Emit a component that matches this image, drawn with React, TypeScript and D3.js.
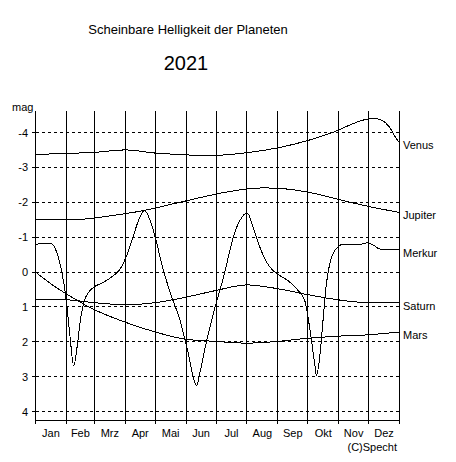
import * as React from 'react';
import * as d3 from 'd3';

const W = 456;
const H = 462;

// month start (day of year) and labels
const monthStarts = [0, 31, 59, 90, 120, 151, 181, 212, 243, 273, 304, 334, 365];
const monthLabels = ['Jan', 'Feb', 'Mrz', 'Apr', 'Mai', 'Jun', 'Jul', 'Aug', 'Sep', 'Okt', 'Nov', 'Dez'];
const magTicks = [-4, -3, -2, -1, 0, 1, 2, 3, 4];

// [day of year, magnitude]
const venus: [number, number][] = [
  [0, -3.37], [31, -3.4], [59, -3.43], [90, -3.5], [120, -3.41], [151, -3.36], [172, -3.33],
  [195, -3.37], [212, -3.42], [243, -3.56], [273, -3.77], [304, -4.07], [318, -4.25],
  [334, -4.39], [340, -4.4], [348, -4.34], [355, -4.15], [360, -3.91], [364.5, -3.72],
];
const jupiter: [number, number][] = [
  [0, -1.5], [31, -1.5], [50, -1.52], [70, -1.59], [108, -1.76], [145, -2.0], [195, -2.31],
  [212, -2.38], [228, -2.41], [243, -2.4], [273, -2.29], [304, -2.08], [334, -1.88], [364.5, -1.71],
];
const merkur: [number, number][] = [
  [0, -0.77], [5, -0.82], [15, -0.82], [20, -0.66], [23.3, -0.38], [26.7, 0.05], [30, 0.62],
  [32.3, 1.2], [35, 1.96], [38.3, 2.7], [41.7, 2.15], [45, 1.39], [49, 0.82], [53.3, 0.58],
  [58.3, 0.44], [68.3, 0.29], [78.3, 0.1], [85, -0.09], [90.7, -0.42], [96.7, -0.9],
  [103.3, -1.48], [109, -1.76], [115, -1.48], [120, -1.0], [128.3, -0.04], [136.7, 0.72],
  [145, 1.39], [151.7, 2.15], [161.7, 3.25], [165, 2.87], [171.7, 1.96], [181, 0.91],
  [186.7, 0.34], [191.7, -0.23], [198.3, -1.0], [205, -1.48], [212.3, -1.69], [218.3, -1.28],
  [225, -0.71], [231.7, -0.28], [238.3, -0.04], [245, 0.1], [255, 0.29], [263.3, 0.53],
  [270, 0.82], [273.3, 1.3], [276.7, 1.96], [280, 2.63], [281.7, 2.97], [285, 2.44],
  [288.3, 1.39], [291.7, 0.34], [295, -0.23], [300, -0.62], [303.3, -0.71], [307, -0.79],
  [325, -0.79], [333.3, -0.84], [340, -0.75], [345, -0.66], [364.5, -0.64],
];
const saturn: [number, number][] = [
  [0, 0.8], [31, 0.8], [59, 0.88], [90, 0.94], [120, 0.88], [151, 0.72], [181, 0.53],
  [212, 0.37], [243, 0.48], [273, 0.65], [304, 0.8], [334, 0.88], [364.5, 0.88],
];
const mars: [number, number][] = [
  [0, 0.0], [15, 0.33], [31, 0.63], [59, 1.08], [90, 1.44], [120, 1.72], [151, 1.93],
  [181, 1.99], [212, 2.04], [243, 1.99], [273, 1.9], [304, 1.84], [334, 1.8], [364.5, 1.72],
];

const planets = [
  { name: 'Venus', data: venus },
  { name: 'Jupiter', data: jupiter },
  { name: 'Merkur', data: merkur },
  { name: 'Saturn', data: saturn },
  { name: 'Mars', data: mars },
];

const font = 'Arial, "Liberation Sans", sans-serif';

export default function App() {
  const x = d3.scaleLinear().domain([0, 365]).range([35.5, 399.5]);
  const y = d3.scaleLinear().domain([-4, 4]).range([132.5, 411.5]);
  const top = 111;
  const bottom = 420.5;
  const snap = (v: number) => Math.floor(v) + 0.5;

  const line = d3
    .line<[number, number]>()
    .x((d) => x(d[0]))
    .y((d) => y(d[1]))
    .curve(d3.curveMonotoneX);

  return (
    <svg
      width={W}
      height={H}
      style={{ position: 'absolute', left: 0, top: 0, background: '#fff' }}
      fontFamily={font}
    >
      <text x={188} y={34} textAnchor="middle" fontSize={13}>
        Scheinbare Helligkeit der Planeten
      </text>
      <text x={186} y={70} textAnchor="middle" fontSize={20}>
        2021
      </text>
      <text x={12} y={111} fontSize={11}>
        mag
      </text>

      {/* dashed grid + y ticks */}
      <g shapeRendering="crispEdges" stroke="#000">
        {magTicks.map((m) => (
          <g key={m}>
            <line
              x1={36}
              x2={399}
              y1={snap(y(m))}
              y2={snap(y(m))}
              strokeDasharray="3,3"
            />
            <line x1={32} x2={35} y1={snap(y(m))} y2={snap(y(m))} />
          </g>
        ))}
      </g>
      {magTicks.map((m) => (
        <text key={m} x={28} y={y(m) + 4} textAnchor="end" fontSize={11}>
          {m}
        </text>
      ))}

      {/* month lines */}
      <g shapeRendering="crispEdges" stroke="#000">
        {monthStarts.map((d) => (
          <line key={d} x1={snap(x(d))} x2={snap(x(d))} y1={top} y2={bottom + 3} />
        ))}
        <line x1={snap(x(0))} x2={snap(x(365))} y1={bottom} y2={bottom} />
      </g>
      {monthLabels.map((m, i) => (
        <text
          key={m}
          x={(x(monthStarts[i]) + x(monthStarts[i + 1])) / 2}
          y={437}
          textAnchor="middle"
          fontSize={11}
        >
          {m}
        </text>
      ))}
      <text x={397} y={451} textAnchor="end" fontSize={11}>
        (C)Specht
      </text>

      {/* planet curves */}
      <g fill="none" stroke="#000" strokeWidth={1} shapeRendering="crispEdges">
        {planets.map((p) => (
          <path key={p.name} d={line(p.data) ?? ''} />
        ))}
      </g>
      {planets.map((p) => (
        <text
          key={p.name}
          x={403}
          y={y(p.data[p.data.length - 1][1]) + 7}
          fontSize={11}
        >
          {p.name}
        </text>
      ))}
    </svg>
  );
}
